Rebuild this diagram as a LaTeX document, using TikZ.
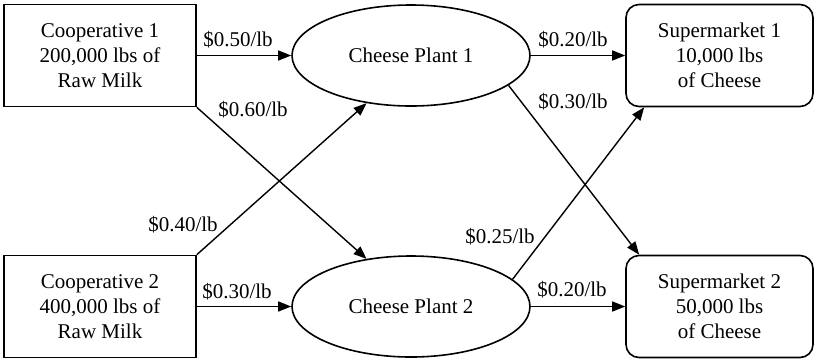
\documentclass[tikz,border=0pt]{standalone}
\usepackage{fontspec}
\setmainfont{Liberation Serif}
\usetikzlibrary{arrows.meta,shapes.geometric}

\begin{document}
\begin{tikzpicture}[x=0.5pt,y=-0.5pt,>={Triangle[length=6.5pt,width=5pt]},
  font=\fontsize{10.5pt}{12.5pt}\selectfont,
  coop/.style={draw, line width=0.8pt, minimum width=96pt, minimum height=51pt,
    align=center, inner sep=0pt},
  plant/.style={draw, ellipse, line width=0.8pt, minimum width=119pt,
    minimum height=50.5pt, inner sep=0pt},
  market/.style={draw, rounded corners=6.5pt, line width=0.8pt, minimum width=93.5pt,
    minimum height=51pt, align=center, inner sep=0pt},
  flow/.style={->, line width=0.7pt},
  cost/.style={inner sep=0pt}]
  \useasboundingbox (0,0) rectangle (815,361);
  % ---- cooperatives ----
  \node[coop] (c1) at (100,55.5) {Cooperative 1\\200,000 lbs of\\Raw Milk};
  \node[coop] (c2) at (100,306.5) {Cooperative 2\\400,000 lbs of\\Raw Milk};
  % ---- cheese plants ----
  \node[plant] (p1) at (411,55.5) {Cheese Plant 1};
  \node[plant] (p2) at (411,306.5) {Cheese Plant 2};
  % ---- supermarkets ----
  \node[market] (s1) at (719.5,55.5) {Supermarket 1\\10,000 lbs\\of Cheese};
  \node[market] (s2) at (719.5,306.5) {Supermarket 2\\50,000 lbs\\of Cheese};
  % ---- milk shipments ----
  \draw[flow] (c1) -- (p1);
  \draw[flow] (c1.south east) -- (p2.133);
  \draw[flow] (c2.north east) -- (p1.227);
  \draw[flow] (c2) -- (p2);
  % ---- cheese shipments ----
  \draw[flow] (p1) -- (s1);
  \draw[flow] (p1.-17) -- ([xshift=7pt]s2.north west);
  \draw[flow] (p2.15) -- ([xshift=9.5pt]s1.south west);
  \draw[flow] (p2) -- (s2);
  % ---- costs ----
  \node[cost] (k11) at (238,40) {\$0.50/lb};
  \node[cost] (k12) at (253,110) {\$0.60/lb};
  \node[cost] (k21) at (183,225) {\$0.40/lb};
  \node[cost] (k22) at (237,292) {\$0.30/lb};
  \node[cost] (m11) at (573,40) {\$0.20/lb};
  \node[cost] (m12) at (573,102) {\$0.30/lb};
  \node[cost] (m21) at (500,237) {\$0.25/lb};
  \node[cost] (m22) at (572,290) {\$0.20/lb};
\end{tikzpicture}
\end{document}
